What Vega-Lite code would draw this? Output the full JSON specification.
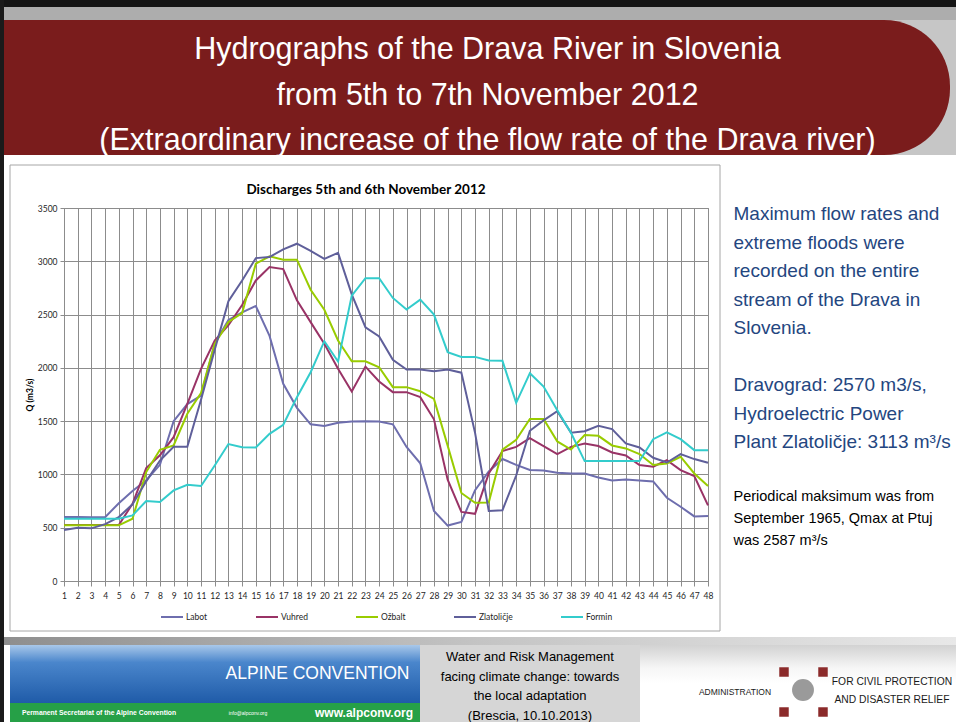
{
  "$schema": "https://vega.github.io/schema/vega-lite/v6.json",
  "padding": 0,
  "background": "#ffffff",
  "spacing": 0,
  "bounds": "flush",
  "resolve": {"scale": {"color": "independent"}, "legend": {"color": "independent"}},
  "config": {
    "view": {"stroke": null},
    "font": "Lato",
    "concat": {"spacing": 0},
    "legend": {"layout": {"bottom": {"anchor": "middle"}}}
  },
  "hconcat": [
    {"width": 4, "height": 722, "data": {"values": [{"part": "edge"}]}, "mark": {"type": "rect", "color": "#1a1a1a"}, "encoding": {}},
    {
      "spacing": 0,
      "bounds": "flush",
      "resolve": {"scale": {"color": "independent"}, "legend": {"color": "independent"}},
      "vconcat": [
        {"width": 952, "height": 7, "data": {"values": [{"part": "top"}]}, "mark": {"type": "rect", "color": "#141414"}, "encoding": {}},
        {"width": 952, "height": 13, "data": {"values": [{"part": "strip"}]}, "mark": {"type": "rect", "color": "#ADADAD"}, "encoding": {}},
        {
          "spacing": 0,
          "bounds": "flush",
          "hconcat": [
            {"width": 21, "height": 135, "data": {"values": [{"part": "bannerLeft"}]}, "mark": {"type": "rect", "color": "#7A1C1C"}, "encoding": {}},
            {
              "width": 925,
              "height": 135,
              "layer": [
                {"data": {"values": [{"part": "bg"}]}, "mark": {"type": "rect", "color": "#C6C6C6"}, "encoding": {}},
                {"data": {"values": [{"part": "banner"}]}, "mark": {"type": "rect", "color": "#7A1C1C", "cornerRadiusTopRight": 66, "cornerRadiusBottomRight": 66}, "encoding": {}},
                {
                  "data": {"values": [
                    {"line": 1, "text": "Hydrographs of the Drava River in Slovenia"},
                    {"line": 2, "text": "from 5th to 7th November 2012"},
                    {"line": 3, "text": "(Extraordinary increase of the flow rate of the Drava river)"}
                  ]},
                  "mark": {"type": "text", "font": "Liberation Sans", "fontSize": 30.5, "color": "#ffffff", "align": "center", "baseline": "middle"},
                  "encoding": {
                    "y": {"field": "line", "type": "ordinal", "axis": null, "scale": {"type": "point", "domain": [1, 2, 3], "range": [30, 121], "padding": 0}},
                    "text": {"field": "text"}
                  }
                }
              ]
            },
            {"width": 6, "height": 135, "data": {"values": [{"part": "tail"}]}, "mark": {"type": "rect", "color": "#C6C6C6"}, "encoding": {}}
          ]
        },
        {
          "spacing": 0,
          "bounds": "flush",
          "vconcat": [
            {"width": 1, "height": 145, "data": {"values": []}, "mark": "text"},
            {
              "spacing": 0,
              "bounds": "flush",
              "hconcat": [
                {"width": 6, "height": 466, "data": {"values": []}, "mark": "text"},
                {"width": 710, "height": 466, "data": {"values": [{"part": "chartBox"}]}, "mark": {"type": "rect", "fill": "#ffffff", "stroke": "#A6A6A6", "strokeWidth": 1}, "encoding": {}}
              ]
            }
          ]
        },
        {"width": 952, "height": 188, "data": {"values": []}, "mark": "text"},
        {
          "spacing": 0,
          "bounds": "flush",
          "resolve": {"scale": {"color": "independent"}, "legend": {"color": "independent"}},
          "hconcat": [
            {"width": 60, "height": 373, "data": {"values": []}, "mark": "text"},
            {
              "width": 644,
              "height": 373,
              "view": {"stroke": "#8C8C8C"},
              "title": {"text": "Discharges 5th and 6th November 2012", "font": "Lato", "fontSize": 13.5, "fontWeight": "bold", "color": "#000000", "anchor": "middle", "dx": -20, "offset": 8},
              "data": {"values": [
                {"t": 1, "Labot": 600, "Vuhred": 525, "Ožbalt": 522, "Zlatoličje": 478, "Formin": 585},
                {"t": 2, "Labot": 600, "Vuhred": 525, "Ožbalt": 522, "Zlatoličje": 500, "Formin": 585},
                {"t": 3, "Labot": 598, "Vuhred": 525, "Ožbalt": 522, "Zlatoličje": 494, "Formin": 585},
                {"t": 4, "Labot": 598, "Vuhred": 525, "Ožbalt": 522, "Zlatoličje": 534, "Formin": 585},
                {"t": 5, "Labot": 730, "Vuhred": 525, "Ožbalt": 522, "Zlatoličje": 600, "Formin": 585},
                {"t": 6, "Labot": 845, "Vuhred": 725, "Ožbalt": 584, "Zlatoličje": 720, "Formin": 616},
                {"t": 7, "Labot": 945, "Vuhred": 1060, "Ožbalt": 1022, "Zlatoličje": 935, "Formin": 750},
                {"t": 8, "Labot": 1090, "Vuhred": 1180, "Ožbalt": 1231, "Zlatoličje": 1130, "Formin": 741},
                {"t": 9, "Labot": 1500, "Vuhred": 1350, "Ožbalt": 1272, "Zlatoličje": 1260, "Formin": 850},
                {"t": 10, "Labot": 1660, "Vuhred": 1663, "Ožbalt": 1569, "Zlatoličje": 1260, "Formin": 903},
                {"t": 11, "Labot": 1740, "Vuhred": 1990, "Ožbalt": 1763, "Zlatoličje": 1700, "Formin": 891},
                {"t": 12, "Labot": 2230, "Vuhred": 2256, "Ožbalt": 2225, "Zlatoličje": 2170, "Formin": 1084},
                {"t": 13, "Labot": 2450, "Vuhred": 2400, "Ožbalt": 2430, "Zlatoličje": 2625, "Formin": 1285},
                {"t": 14, "Labot": 2520, "Vuhred": 2590, "Ožbalt": 2514, "Zlatoličje": 2820, "Formin": 1256},
                {"t": 15, "Labot": 2580, "Vuhred": 2820, "Ožbalt": 2977, "Zlatoličje": 3030, "Formin": 1253},
                {"t": 16, "Labot": 2300, "Vuhred": 2946, "Ožbalt": 3046, "Zlatoličje": 3040, "Formin": 1381},
                {"t": 17, "Labot": 1850, "Vuhred": 2927, "Ožbalt": 3015, "Zlatoličje": 3112, "Formin": 1466},
                {"t": 18, "Labot": 1625, "Vuhred": 2633, "Ožbalt": 3015, "Zlatoličje": 3165, "Formin": 1725},
                {"t": 19, "Labot": 1470, "Vuhred": 2429, "Ožbalt": 2733, "Zlatoličje": 3098, "Formin": 1959},
                {"t": 20, "Labot": 1455, "Vuhred": 2226, "Ožbalt": 2545, "Zlatoličje": 3022, "Formin": 2250},
                {"t": 21, "Labot": 1485, "Vuhred": 1991, "Ožbalt": 2257, "Zlatoličje": 3080, "Formin": 2059},
                {"t": 22, "Labot": 1497, "Vuhred": 1778, "Ožbalt": 2062, "Zlatoličje": 2690, "Formin": 2678},
                {"t": 23, "Labot": 1500, "Vuhred": 2012, "Ožbalt": 2062, "Zlatoličje": 2381, "Formin": 2841},
                {"t": 24, "Labot": 1497, "Vuhred": 1872, "Ožbalt": 2006, "Zlatoličje": 2294, "Formin": 2841},
                {"t": 25, "Labot": 1470, "Vuhred": 1772, "Ožbalt": 1819, "Zlatoličje": 2075, "Formin": 2656},
                {"t": 26, "Labot": 1258, "Vuhred": 1772, "Ožbalt": 1819, "Zlatoličje": 1984, "Formin": 2547},
                {"t": 27, "Labot": 1105, "Vuhred": 1725, "Ožbalt": 1781, "Zlatoličje": 1984, "Formin": 2640},
                {"t": 28, "Labot": 658, "Vuhred": 1517, "Ožbalt": 1709, "Zlatoličje": 1969, "Formin": 2500},
                {"t": 29, "Labot": 520, "Vuhred": 950, "Ožbalt": 1270, "Zlatoličje": 1984, "Formin": 2147},
                {"t": 30, "Labot": 555, "Vuhred": 648, "Ožbalt": 826, "Zlatoličje": 1955, "Formin": 2103},
                {"t": 31, "Labot": 852, "Vuhred": 630, "Ožbalt": 734, "Zlatoličje": 1390, "Formin": 2103},
                {"t": 32, "Labot": 1028, "Vuhred": 1010, "Ožbalt": 736, "Zlatoličje": 657, "Formin": 2069},
                {"t": 33, "Labot": 1145, "Vuhred": 1220, "Ožbalt": 1232, "Zlatoličje": 664, "Formin": 2066},
                {"t": 34, "Labot": 1090, "Vuhred": 1258, "Ožbalt": 1326, "Zlatoličje": 990, "Formin": 1672},
                {"t": 35, "Labot": 1042, "Vuhred": 1340, "Ožbalt": 1520, "Zlatoličje": 1410, "Formin": 1950},
                {"t": 36, "Labot": 1037, "Vuhred": 1265, "Ožbalt": 1520, "Zlatoličje": 1507, "Formin": 1825},
                {"t": 37, "Labot": 1015, "Vuhred": 1190, "Ožbalt": 1310, "Zlatoličje": 1593, "Formin": 1603},
                {"t": 38, "Labot": 1009, "Vuhred": 1259, "Ožbalt": 1234, "Zlatoličje": 1391, "Formin": 1391},
                {"t": 39, "Labot": 1009, "Vuhred": 1291, "Ožbalt": 1369, "Zlatoličje": 1406, "Formin": 1125},
                {"t": 40, "Labot": 972, "Vuhred": 1266, "Ožbalt": 1362, "Zlatoličje": 1456, "Formin": 1125},
                {"t": 41, "Labot": 944, "Vuhred": 1206, "Ožbalt": 1272, "Zlatoličje": 1425, "Formin": 1125},
                {"t": 42, "Labot": 953, "Vuhred": 1178, "Ožbalt": 1244, "Zlatoličje": 1291, "Formin": 1125},
                {"t": 43, "Labot": 944, "Vuhred": 1088, "Ožbalt": 1191, "Zlatoličje": 1253, "Formin": 1125},
                {"t": 44, "Labot": 934, "Vuhred": 1072, "Ožbalt": 1088, "Zlatoličje": 1156, "Formin": 1331},
                {"t": 45, "Labot": 781, "Vuhred": 1134, "Ožbalt": 1103, "Zlatoličje": 1112, "Formin": 1394},
                {"t": 46, "Labot": 697, "Vuhred": 1041, "Ožbalt": 1166, "Zlatoličje": 1191, "Formin": 1331},
                {"t": 47, "Labot": 606, "Vuhred": 984, "Ožbalt": 1009, "Zlatoličje": 1144, "Formin": 1228},
                {"t": 48, "Labot": 609, "Vuhred": 709, "Ožbalt": 891, "Zlatoličje": 1109, "Formin": 1228}
              ]},
              "transform": [{"fold": ["Labot", "Vuhred", "Ožbalt", "Zlatoličje", "Formin"], "as": ["station", "q"]}],
              "mark": {"type": "line", "strokeWidth": 2},
              "encoding": {
                "x": {
                  "field": "t", "type": "quantitative",
                  "scale": {"domain": [1, 48], "nice": false},
                  "axis": {
                    "values": [1,2,3,4,5,6,7,8,9,10,11,12,13,14,15,16,17,18,19,20,21,22,23,24,25,26,27,28,29,30,31,32,33,34,35,36,37,38,39,40,41,42,43,44,45,46,47,48],
                    "title": null, "grid": true, "gridColor": "#8C8C8C", "gridOpacity": 1,
                    "tickSize": 5, "tickColor": "#8C8C8C", "domainColor": "#8C8C8C",
                    "labelFont": "Lato", "labelFontSize": 8.5, "labelColor": "#262626",
                    "labelPadding": 5, "labelFlush": false, "labelOverlap": false
                  }
                },
                "y": {
                  "field": "q", "type": "quantitative",
                  "scale": {"domain": [0, 3500], "nice": false},
                  "axis": {
                    "values": [0, 500, 1000, 1500, 2000, 2500, 3000, 3500],
                    "format": "d",
                    "title": "Q (m3/s)", "titleFont": "Lato", "titleFontSize": 8.5, "titleFontWeight": "bold", "titleColor": "#000000", "titlePadding": 3,
                    "grid": true, "gridColor": "#8C8C8C", "gridOpacity": 1,
                    "tickSize": 4, "tickColor": "#8C8C8C", "domainColor": "#8C8C8C",
                    "labelFont": "Lato", "labelFontSize": 8.5, "labelColor": "#262626", "labelPadding": 3
                  }
                },
                "color": {
                  "field": "station", "type": "nominal",
                  "scale": {"domain": ["Labot", "Vuhred", "Ožbalt", "Zlatoličje", "Formin"], "range": ["#6E6EAE", "#993366", "#99CC00", "#5F5F9A", "#33CCCC"]},
                  "legend": {
                    "title": null, "orient": "bottom", "direction": "horizontal", "columns": 5,
                    "symbolType": "stroke", "symbolSize": 484, "symbolStrokeWidth": 2,
                    "labelFont": "Lato", "labelFontSize": 8.5, "labelColor": "#262626", "labelOffset": 2,
                    "columnPadding": 44, "gridAlign": "none", "offset": 5
                  }
                }
              }
            },
            {"width": 25, "height": 373, "data": {"values": []}, "mark": "text"},
            {
              "width": 1,
              "height": 373,
              "layer": [
                {
                  "data": {"values": [
                    {"line": 1, "text": "Maximum flow rates and"},
                    {"line": 2, "text": "extreme floods were"},
                    {"line": 3, "text": "recorded on the entire"},
                    {"line": 4, "text": "stream of the Drava in"},
                    {"line": 5, "text": "Slovenia."},
                    {"line": 7, "text": "Dravograd: 2570 m3/s,"},
                    {"line": 8, "text": "Hydroelectric Power"},
                    {"line": 9, "text": "Plant Zlatoličje: 3113 m³/s"}
                  ]},
                  "mark": {"type": "text", "align": "left", "baseline": "middle", "font": "Liberation Sans", "fontSize": 19, "color": "#24467F"},
                  "encoding": {
                    "y": {"field": "line", "type": "ordinal", "axis": null, "scale": {"type": "point", "domain": [1, 2, 3, 4, 5, 6, 7, 8, 9], "range": [6, 234], "padding": 0}},
                    "text": {"field": "text"}
                  }
                },
                {
                  "data": {"values": [
                    {"row": 1, "text": "Periodical maksimum was from"},
                    {"row": 2, "text": "September 1965, Qmax at Ptuj"},
                    {"row": 3, "text": "was 2587 m³/s"}
                  ]},
                  "mark": {"type": "text", "align": "left", "baseline": "middle", "font": "Liberation Sans", "fontSize": 14.5, "color": "#000000"},
                  "encoding": {
                    "y": {"field": "row", "type": "ordinal", "axis": null, "scale": {"type": "point", "domain": [1, 2, 3], "range": [289, 333], "padding": 0}},
                    "text": {"field": "text"}
                  }
                }
              ],
              "resolve": {"scale": {"y": "independent"}}
            }
          ]
        },
        {"width": 952, "height": 429, "data": {"values": []}, "mark": "text"},
        {"width": 952, "height": 8, "data": {"values": [{"part": "band"}]}, "mark": {"type": "rect", "fill": {"gradient": "linear", "x1": 0, "y1": 0, "x2": 1, "y2": 0, "stops": [{"offset": 0, "color": "#8E8E8E"}, {"offset": 0.5, "color": "#C4C4C4"}, {"offset": 1, "color": "#E8E8E8"}]}}, "encoding": {}},
        {
          "spacing": 0,
          "bounds": "flush",
          "hconcat": [
            {"width": 6, "height": 77, "data": {"values": []}, "mark": "text"},
            {
              "spacing": 0,
              "bounds": "flush",
              "vconcat": [
                {
                  "spacing": 0,
                  "bounds": "flush",
                  "hconcat": [
                    {"width": 205, "height": 58, "data": {"values": [{"part": "logo"}]}, "mark": {"type": "rect", "fill": {"gradient": "linear", "x1": 0, "y1": 0, "x2": 0, "y2": 1, "stops": [{"offset": 0, "color": "#A9C8EA"}, {"offset": 0.3, "color": "#4A86CC"}, {"offset": 1, "color": "#1F5BA8"}]}}, "encoding": {}},
                    {
                      "width": 205,
                      "height": 58,
                      "layer": [
                        {"data": {"values": [{"part": "blue"}]}, "mark": {"type": "rect", "fill": {"gradient": "linear", "x1": 0, "y1": 0, "x2": 0, "y2": 1, "stops": [{"offset": 0, "color": "#A9C8EA"}, {"offset": 0.3, "color": "#4A86CC"}, {"offset": 1, "color": "#1F5BA8"}]}}, "encoding": {}},
                        {"data": {"values": [{"text": "ALPINE CONVENTION"}]}, "mark": {"type": "text", "font": "Liberation Sans", "fontSize": 17.5, "color": "#ffffff", "align": "center", "baseline": "middle"}, "encoding": {"text": {"field": "text"}}}
                      ]
                    }
                  ]
                },
                {"width": 410, "height": 58, "data": {"values": []}, "mark": "text"},
                {
                  "spacing": 0,
                  "bounds": "flush",
                  "hconcat": [
                    {
                      "width": 178, "height": 19,
                      "layer": [
                        {"data": {"values": [{"part": "green1"}]}, "mark": {"type": "rect", "color": "#26A047"}, "encoding": {}},
                        {"data": {"values": [{"text": "Permanent Secretariat of the Alpine Convention"}]}, "mark": {"type": "text", "font": "Liberation Sans", "fontSize": 6.8, "fontWeight": "bold", "color": "#ffffff", "align": "center", "baseline": "middle"}, "encoding": {"text": {"field": "text"}}}
                      ]
                    },
                    {
                      "width": 120, "height": 19,
                      "layer": [
                        {"data": {"values": [{"part": "green2"}]}, "mark": {"type": "rect", "color": "#26A047"}, "encoding": {}},
                        {"data": {"values": [{"text": "info@alpconv.org"}]}, "mark": {"type": "text", "font": "Liberation Sans", "fontSize": 5, "color": "#ffffff", "align": "center", "baseline": "middle"}, "encoding": {"text": {"field": "text"}}}
                      ]
                    },
                    {
                      "width": 112, "height": 19,
                      "layer": [
                        {"data": {"values": [{"part": "green3"}]}, "mark": {"type": "rect", "color": "#26A047"}, "encoding": {}},
                        {"data": {"values": [{"text": "www.alpconv.org"}]}, "mark": {"type": "text", "font": "Liberation Sans", "fontSize": 12, "fontWeight": "bold", "color": "#ffffff", "align": "center", "baseline": "middle"}, "encoding": {"text": {"field": "text"}}}
                      ]
                    }
                  ]
                }
              ]
            },
            {"width": 410, "height": 77, "data": {"values": []}, "mark": "text"},
            {
              "width": 220, "height": 77,
              "layer": [
                {"data": {"values": [{"part": "grey"}]}, "mark": {"type": "rect", "color": "#D6D6D6"}, "encoding": {}},
                {
                  "data": {"values": [
                    {"line": 1, "text": "Water and Risk Management"},
                    {"line": 2, "text": "facing climate change: towards"},
                    {"line": 3, "text": "the local adaptation"},
                    {"line": 4, "text": "(Brescia, 10.10.2013)"}
                  ]},
                  "mark": {"type": "text", "font": "Liberation Sans", "fontSize": 13, "color": "#000000", "align": "center", "baseline": "middle"},
                  "encoding": {
                    "y": {"field": "line", "type": "ordinal", "axis": null, "scale": {"type": "point", "domain": [1, 2, 3, 4], "range": [12, 71], "padding": 0}},
                    "text": {"field": "text"}
                  }
                }
              ]
            },
            {
              "spacing": 0,
              "bounds": "flush",
              "hconcat": [
                {"width": 316, "height": 77, "data": {"values": [{"part": "rightBg"}]}, "mark": {"type": "rect", "fill": {"gradient": "linear", "x1": 0, "y1": 0, "x2": 0, "y2": 1, "stops": [{"offset": 0, "color": "#D2D2D2"}, {"offset": 0.3, "color": "#F6F6F6"}, {"offset": 0.5, "color": "#FFFFFF"}]}}, "encoding": {}}
              ]
            },
            {
              "spacing": 0,
              "bounds": "flush",
              "hconcat": [
                {"width": 52, "height": 77, "data": {"values": []}, "mark": "text"},
                {
                  "width": 86, "height": 77,
                  "data": {"values": [{"line": 1, "text": "ADMINISTRATION"}]},
                  "mark": {"type": "text", "font": "Liberation Sans", "fontSize": 8.5, "color": "#1a1a1a", "align": "center", "baseline": "middle"},
                  "encoding": {
                    "y": {"field": "line", "type": "ordinal", "axis": null, "scale": {"type": "point", "domain": [1], "range": [47, 47], "padding": 0}},
                    "text": {"field": "text"}
                  }
                },
                {
                  "width": 50, "height": 77,
                  "layer": [
                    {
                      "data": {"values": [{"line": 1, "part": "sphere"}]},
                      "mark": {"type": "point", "shape": "circle", "filled": true, "size": 480, "color": "#9A9A9A", "opacity": 1},
                      "encoding": {
                        "y": {"field": "line", "type": "ordinal", "axis": null, "scale": {"type": "point", "domain": [1], "range": [45, 45], "padding": 0}}
                      }
                    },
                    {
                      "data": {"values": [
                        {"col": 1, "row": 1, "part": "corner"},
                        {"col": 2, "row": 1, "part": "corner"},
                        {"col": 1, "row": 2, "part": "corner"},
                        {"col": 2, "row": 2, "part": "corner"}
                      ]},
                      "mark": {"type": "square", "filled": true, "size": 90, "color": "#8B2A2A", "opacity": 1},
                      "encoding": {
                        "x": {"field": "col", "type": "ordinal", "axis": null, "scale": {"type": "point", "domain": [1, 2], "range": [6, 45], "padding": 0}},
                        "y": {"field": "row", "type": "ordinal", "axis": null, "scale": {"type": "point", "domain": [1, 2], "range": [27, 67], "padding": 0}}
                      }
                    }
                  ],
                  "resolve": {"scale": {"y": "independent"}}
                },
                {
                  "width": 128, "height": 77,
                  "data": {"values": [
                    {"line": 1, "text": "FOR CIVIL PROTECTION"},
                    {"line": 2, "text": "AND DISASTER RELIEF"}
                  ]},
                  "mark": {"type": "text", "font": "Liberation Sans", "fontSize": 10.3, "color": "#1a1a1a", "align": "center", "baseline": "middle"},
                  "encoding": {
                    "y": {"field": "line", "type": "ordinal", "axis": null, "scale": {"type": "point", "domain": [1, 2], "range": [37, 55], "padding": 0}},
                    "text": {"field": "text"}
                  }
                }
              ]
            }
          ]
        }
      ]
    }
  ]
}
